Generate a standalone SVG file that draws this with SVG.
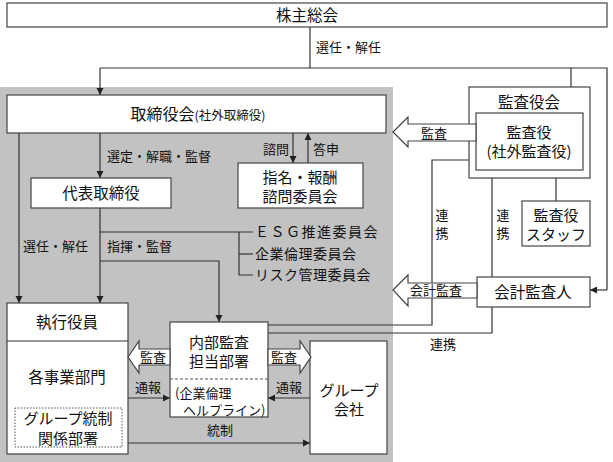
<svg xmlns="http://www.w3.org/2000/svg" width="613" height="462" viewBox="0 0 613 462">
<defs>
<marker id="ah" markerUnits="userSpaceOnUse" markerWidth="8" markerHeight="8" refX="7" refY="4" orient="auto">
<path d="M0,0.5 L7,4 L0,7.5 z" fill="#222"/>
</marker>
<style>
.box{fill:#fff;stroke:#444;stroke-width:1.2}
.ln{fill:none;stroke:#333;stroke-width:1.2}
.ar{fill:none;stroke:#333;stroke-width:1.2;marker-end:url(#ah)}
.hol{fill:#ffffff;stroke:#444;stroke-width:1.2;stroke-linejoin:miter}
text{font-family:"Noto Sans CJK JP","Noto Sans",sans-serif;fill:#111}
.b{font-size:15.5px;text-anchor:middle}
.b2{font-size:15px;text-anchor:middle}
.l{font-size:13px}
.c{font-size:13px;text-anchor:middle}
.m{font-size:14px}
</style>
</defs>
<rect x="0" y="0" width="613" height="462" fill="#fff"/>
<rect x="0" y="87" width="393" height="375" fill="#c2c2c2"/>

<g id="connectors">
<line class="ln" x1="310" y1="27" x2="310" y2="68"/>
<polyline class="ln" points="100,68 607,68 607,290"/>
<line class="ar" x1="100" y1="68" x2="100" y2="95"/>
<line class="ar" x1="571" y1="68" x2="571" y2="113"/>
<line class="ar" x1="607" y1="290" x2="590" y2="290"/>
<line class="ar" x1="19" y1="133" x2="19" y2="303"/>
<line class="ar" x1="100" y1="133" x2="100" y2="178"/>
<line class="ar" x1="100" y1="208" x2="100" y2="303"/>
<line class="ar" x1="293" y1="133" x2="293" y2="163"/>
<line class="ar" x1="308" y1="163" x2="308" y2="133"/>
<line class="ln" x1="100" y1="232" x2="253" y2="232"/>
<polyline class="ln" points="239,232 239,275 253,275"/>
<line class="ln" x1="239" y1="254" x2="253" y2="254"/>
<polyline class="ar" points="100,261 219,261 219,322"/>
<polyline class="ln" points="476,160 432,160 432,283"/>
<polyline class="ln" points="432,298 432,325 268,325"/>
<line class="ln" x1="492" y1="170" x2="492" y2="277"/>
<polyline class="ln" points="492,307 492,333 268,333"/>
<line class="ln" x1="556" y1="178" x2="556" y2="201"/>
<line class="ar" x1="128" y1="398" x2="170" y2="398"/>
<line class="ar" x1="310" y1="398" x2="268" y2="398"/>
<line class="ar" x1="122" y1="443" x2="310" y2="443"/>
<text class="l" x="316" y="52">選任・解任</text>
<text class="l" x="107" y="161">選定・解職・監督</text>
<text class="l" x="263" y="154">諮問</text>
<text class="l" x="313" y="154">答申</text>
<text class="l" x="23" y="251">選任・解任</text>
<text class="l" x="107" y="251">指揮・監督</text>
<text class="c" x="442" y="220">連</text>
<text class="c" x="442" y="238">携</text>
<text class="c" x="503" y="220">連</text>
<text class="c" x="503" y="238">携</text>
<text class="c" x="443" y="349">連携</text>
<text class="c" x="148" y="392">通報</text>
<text class="c" x="289" y="392">通報</text>
<text class="c" x="220" y="435">統制</text>
</g>

<g id="kabunushi">
<rect class="box" x="7" y="3" width="600" height="24"/>
<text class="b" x="307" y="20.5">株主総会</text>
</g>

<g id="torishimariyakukai">
<rect class="box" x="7" y="95" width="379" height="38"/>
<text x="198" y="120" text-anchor="middle"><tspan font-size="16">取締役会</tspan><tspan font-size="12.5">(社外取締役)</tspan></text>
</g>

<g id="daihyo">
<rect class="box" x="31" y="178" width="140" height="30"/>
<text class="b" x="101" y="198.5">代表取締役</text>
</g>

<g id="shimei">
<rect class="box" x="238" y="163" width="125" height="45"/>
<text class="b2" x="300" y="183">指名・報酬</text>
<text class="b2" x="300" y="202">諮問委員会</text>
</g>

<g id="committees">
<text class="m" x="255" y="237" letter-spacing="1.5">ＥＳＧ推進委員会</text>
<text class="m" x="255" y="259" letter-spacing="0.5">企業倫理委員会</text>
<text class="m" x="255" y="280" letter-spacing="0.5">リスク管理委員会</text>
</g>

<g id="kansayakukai">
<rect class="box" x="469" y="87" width="121" height="91"/>
<text class="b" x="529" y="107.5">監査役会</text>
</g>

<g id="kansayaku">
<rect class="box" x="476" y="113" width="107" height="57"/>
<text class="b2" x="529" y="138">監査役</text>
<text class="b2" x="529" y="157">(社外監査役)</text>
</g>

<g id="staff">
<rect class="box" x="522" y="201" width="68" height="45"/>
<text class="b2" x="556" y="221">監査役</text>
<text class="b2" x="556" y="240">スタッフ</text>
</g>

<g id="kaikei">
<rect class="box" x="477" y="277" width="113" height="30"/>
<text class="b" x="533" y="297.5">会計監査人</text>
</g>

<g id="shikko">
<rect class="box" x="7" y="303" width="121" height="151"/>
<line class="ln" x1="7" y1="341" x2="128" y2="341"/>
<text class="b" x="67" y="327.5">執行役員</text>
<text class="b" x="67" y="382.5">各事業部門</text>
<rect x="15" y="408" width="107" height="39" fill="#fff" stroke="#555" stroke-width="1" stroke-dasharray="1.5,1.5"/>
<text class="b2" x="68" y="424">グループ統制</text>
<text class="b2" x="68" y="443.5">関係部署</text>
</g>

<g id="naibu">
<rect class="box" x="170" y="322" width="98" height="95"/>
<text class="b2" x="219" y="348">内部監査</text>
<text class="b2" x="219" y="367">担当部署</text>
<line x1="170" y1="379" x2="268" y2="379" stroke="#555" stroke-width="1" stroke-dasharray="3,2"/>
<text class="l" x="175" y="397.5">(企業倫理</text>
<text class="l" x="183" y="414.5">ヘルプライン)</text>
</g>

<g id="group">
<rect class="box" x="310" y="341" width="77" height="113"/>
<text class="b2" x="349" y="396">グループ</text>
<text class="b2" x="349" y="415">会社</text>
</g>

<g id="audit-arrows">
<polygon class="hol" points="393,132 408,117 408,124 476,124 476,141 408,141 408,147"/>
<polygon class="hol" points="393,290 408,275 408,283 477,283 477,298 408,298 408,306"/>
<polygon class="hol" points="128,357 139,341 139,349 170,349 170,365 139,365 139,373"/>
<polygon class="hol" points="311,357 300,341 300,349 268,349 268,365 300,365 300,373"/>
<text class="c" x="434" y="138">監査</text>
<text class="c" x="436" y="295">会計監査</text>
<text class="c" x="153" y="362">監査</text>
<text class="c" x="284" y="362">監査</text>
</g>
</svg>
